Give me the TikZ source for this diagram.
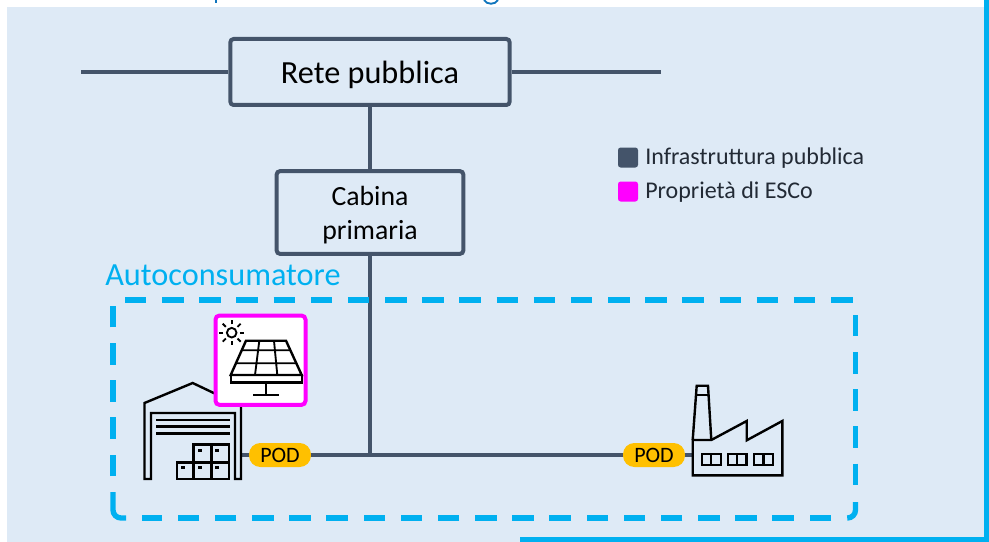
\documentclass[tikz,border=0pt]{standalone}
\usepackage{fontspec}
\setmainfont{Carlito}
\definecolor{panel}{HTML}{DEEAF6}
\definecolor{navy}{HTML}{44546A}
\definecolor{cyanb}{HTML}{00B0F0}
\definecolor{magb}{HTML}{FF00FF}
\definecolor{podc}{HTML}{FFC000}
\definecolor{legt}{HTML}{222A35}
\definecolor{titleb}{HTML}{0F75BD}
\tikzset{
  x=0.75pt,y=-0.75pt,
  mainbox/.style={draw=navy,line width=3pt,fill=panel,rounded corners=2.5pt,inner sep=0pt,align=center},
  wire/.style={draw=navy,line width=3pt},
  pod/.style={fill=podc,rounded corners=8.5pt,minimum width=46.5pt,minimum height=18pt,inner sep=0pt,font=\fontsize{16.5}{18}\selectfont},
  dashb/.style={draw=cyanb,line width=4pt,dash pattern=on 16.1pt off 11.77pt},
  cornerb/.style={draw=cyanb,line width=4pt,rounded corners=6pt},
  icon/.style={draw=black,line width=1.8pt,line join=miter},
  slat/.style={draw=black,line width=2.2pt},
  thin icon/.style={draw=black,line width=1.4pt},
  legtext/.style={text=legt,anchor=base west,inner sep=0pt,font=\fontsize{18}{20}\selectfont},
  legsq/.style={rounded corners=2pt,minimum width=15pt,minimum height=15pt,inner sep=0pt}
}
\begin{document}
\begin{tikzpicture}
\useasboundingbox (0,0) rectangle (989,542);
% panel
\fill[white] (0,0) rectangle (989,542);
\fill[panel] (7,7) rectangle (984,542);
\fill[cyanb] (984,0) rectangle (989,542);
\fill[cyanb] (520,537) rectangle (989,542);
% clipped title remnants
\fill[titleb] (214.5,0) rectangle (217,3.5);
\draw[titleb,line width=1.4pt] (484,0) .. controls (487,5) and (495,5) .. (498,0);

% coordinates
\coordinate (lineL) at (81,72);
\coordinate (lineR) at (661,72);
\coordinate (junc) at (370,455);
\coordinate (whouse) at (241,455);
\coordinate (fact) at (692,455);

% boxes
\node[mainbox,minimum width=209.5pt,minimum height=49.5pt,text height=17.2pt,text depth=0pt,font=\fontsize{24.2}{28}\selectfont] (rete) at (370,72) {Rete pubblica};
\node[mainbox,minimum width=140pt,minimum height=62pt,text height=41pt,text depth=0pt,font=\fontsize{20.8}{25.5}\selectfont] (cabina) at (370,212.5) {Cabina\\primaria};
\node[pod] (podL) at (280,455) {POD};
\node[pod] (podR) at (654,455) {POD};
\draw[wire] (lineL) -- (rete.west);
\draw[wire] (rete.east) -- (lineR);
\draw[wire] (rete.south) -- (cabina.north);
\draw[wire] (cabina.south) -- (junc);
\draw[wire] (podL.east) -- (podR.west);
\draw[wire] (whouse) -- (podL.west);
\draw[wire] (podR.east) -- (fact);

% dashed boundary
\draw[dashb] (125,300) -- (853,300);
\draw[dashb] (855.5,315) -- (855.5,487);
\draw[cornerb] (855.5,502) -- (855.5,518) -- (848,518);
\draw[dashb] (831,518) -- (142,518);
\draw[cornerb] (126,518) -- (113,518) -- (113,492);
\draw[dashb] (113,476) -- (113,306);
\node[text=cyanb,anchor=base west,inner sep=0pt,font=\fontsize{24.2}{28}\selectfont] (auto) at (105,285) {Autoconsumatore};

% warehouse
\draw[icon] (144.5,479) -- (144.5,403) -- (192.7,383) -- (241,406) -- (241,479) -- (235,479) -- (235,413) -- (151,413) -- (151,479) -- cycle;
\draw[slat] (156,420) -- (230,420) (156,426.5) -- (230,426.5) (156,433.5) -- (230,433.5);
\draw[icon] (193.3,444.3) rectangle (228.7,479) (176.7,462.3) rectangle (228.7,479)
  (211.3,444.3) -- (211.3,479) (193.3,462.3) -- (193.3,479);
\foreach \bx/\by in {200/450,217/450,183/467,200/467,217/467}
  \fill[black] (\bx-2,\by-1.5) rectangle (\bx+2,\by+1.5);

% solar box
\node[draw=magb,line width=3pt,fill=white,rounded corners=3pt,minimum width=67.5pt,minimum height=67pt,inner sep=0pt] (solar) at (260.5,360.2) {};
\draw[thin icon] (231.7,332.7) circle[radius=3.6pt];
\foreach \a in {0,45,...,315}
  \draw[thin icon] (231.7,332.7) ++(\a:6.2pt) -- ++(\a:3.3pt);
\draw[icon] (246,340.7) -- (286,340.7) -- (301.7,375) -- (230.7,375) -- cycle;
\draw[icon] (230.7,375) rectangle (301.7,382.3);
\draw[thin icon] (241.6,350.3) -- (290.4,350.3) (236,363.3) -- (296.4,363.3)
  (259.3,340.7) -- (255,375) (274,340.7) -- (277.3,375);
\draw[thin icon] (266,382) -- (266,394.7) (253.3,394.7) -- (279,394.7);

% factory
\draw[icon] (692.7,440) -- (696.7,385.7) -- (708,385.7) -- (711.3,440);
\draw[icon] (695.5,395) -- (709,395);
\draw[icon] (711.3,440) -- (692.7,440) -- (692.7,475.3) -- (782.3,475.3) -- (782.3,421) -- (746.7,440.3) -- (746.7,421) -- cycle;
\foreach \wa/\wb/\wc in {701.7/711/721,727.7/737/746.3,753.7/763.5/773}{
  \draw[icon] (\wa,454) rectangle (\wc,465);
  \draw[icon] (\wb,454) -- (\wb,465);
}

% legend
\node[legsq,fill=navy] (legA) at (628,157.5) {};
\node[legsq,fill=magb] (legB) at (628,191.5) {};
\node[legtext] (legAt) at (645,164) {Infrastruttura pubblica};
\node[legtext] (legBt) at (645,198) {Proprietà di ESCo};
\end{tikzpicture}
\end{document}
